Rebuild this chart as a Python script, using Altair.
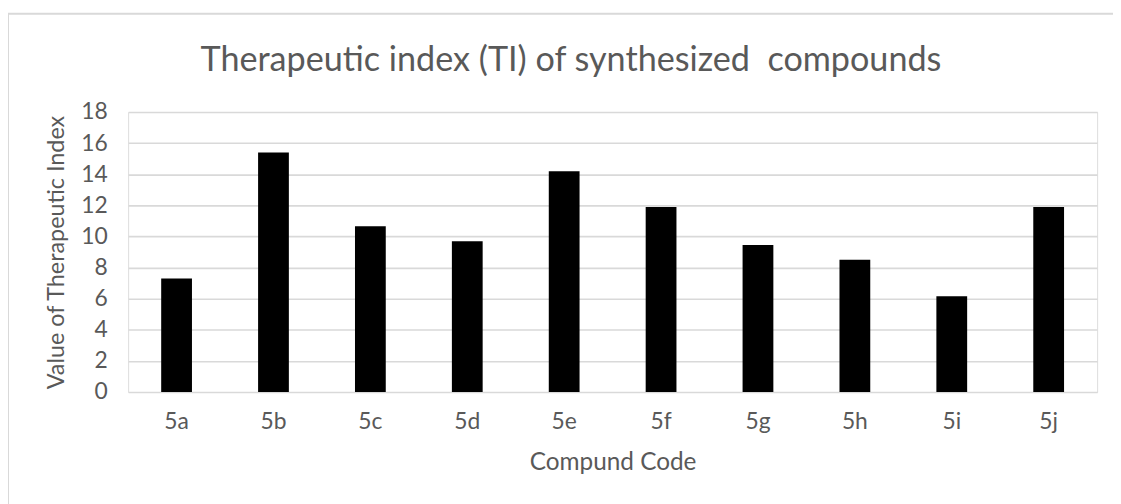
import altair as alt
import pandas as pd

compounds = ["5a", "5b", "5c", "5d", "5e", "5f", "5g", "5h", "5i", "5j"]
ti_values = [7.3, 15.4, 10.65, 9.7, 14.2, 11.9, 9.45, 8.5, 6.15, 11.9]
y_ticks = [0, 2, 4, 6, 8, 10, 12, 14, 16, 18]

df = pd.DataFrame({"compound": compounds, "ti": ti_values})

FONT = "Lato"
GRAY = "#595959"

bars = alt.Chart(df).mark_bar(color="black", size=31).encode(
    x=alt.X(
        "compound:N",
        sort=compounds,
        scale=alt.Scale(paddingInner=0, paddingOuter=0),
        axis=alt.Axis(
            title="Compund Code",
            labelAngle=0,
            labelFont=FONT,
            labelFontSize=23,
            labelColor=GRAY,
            labelPadding=19,
            ticks=False,
            domain=False,
            titleFont=FONT,
            titleFontSize=24.5,
            titleFontWeight="normal",
            titleColor=GRAY,
            titlePadding=17,
        ),
    ),
    y=alt.Y(
        "ti:Q",
        scale=alt.Scale(domain=[0, 18], nice=False),
        axis=alt.Axis(
            title="Value of Therapeutic Index",
            values=y_ticks,
            labelFont=FONT,
            labelFontSize=23,
            labelColor=GRAY,
            labelPadding=21,
            ticks=False,
            domain=False,
            gridColor="#d9d9d9",
            gridWidth=1.6,
            titleFont=FONT,
            titleFontSize=23.5,
            titleFontWeight="normal",
            titleColor=GRAY,
            titlePadding=12,
        ),
    ),
)

border = alt.Chart(pd.DataFrame({"k": [0]})).mark_rect(
    fill=None, stroke="#d9d9d9", strokeWidth=2
).encode(
    x=alt.value(-121), x2=alt.value(1100), y=alt.value(-99), y2=alt.value(420)
)

chart = alt.layer(border, bars).properties(
    width=976,
    height=282,
    title=alt.TitleParams(
        "Therapeutic index (TI) of synthesized\u00a0 compounds",
        font=FONT,
        fontSize=34.4,
        fontWeight="normal",
        color=GRAY,
        anchor="middle",
        dx=-42,
        offset=-66,
    ),
    autosize=alt.AutoSizeParams(type="none"),
    padding={"left": 121, "top": 103, "right": 16, "bottom": 111},
).configure_view(stroke=None).configure(background="white")

chart.save("out.html", embed_options={"renderer": "svg", "actions": False})
